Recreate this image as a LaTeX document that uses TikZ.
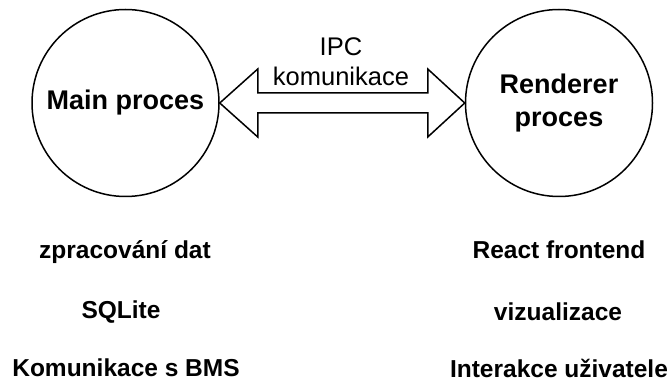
\documentclass[tikz,border=0pt]{standalone}
\usepackage{fontspec}
\setmainfont{Liberation Sans}
\usetikzlibrary{calc}
\begin{document}
\begin{tikzpicture}[x=1pt,y=-1pt,
  proc/.style={circle,draw,line width=1.5pt,minimum size=187pt,inner sep=0pt,align=center,
    font=\fontsize{27}{33}\selectfont\bfseries},
  lbl/.style={font=\fontsize{24.5}{28}\selectfont\bfseries,inner sep=0pt},
  ipc/.style={font=\fontsize{25.5}{30}\selectfont,align=center,inner sep=0pt},
  bigarrow/.style={draw,line width=1.5pt,line join=miter}]
\useasboundingbox (0,0) rectangle (669,382);
\node[proc] (main) at (125.5,103) {Main proces};
\node[proc] (rend) at (559,103) {Renderer\\proces};
\draw[bigarrow] (main.east) -- ++(38,-34) -- ++(0,24)
  -- ($(rend.west)+(-37,-10)$) -- ++(0,-24) -- (rend.west)
  -- ++(-37,34) -- ++(0,-24) -- ($(main.east)+(38,10)$) -- ++(0,24) -- cycle;
\node[ipc] (ipc) at (341,62) {IPC\\komunikace};
\node[lbl] (m1) at (125,252) {zpracování dat};
\node[lbl] (m2) at (121,312) {SQLite};
\node[lbl] (m3) at (126,368) {Komunikace s BMS};
\node[lbl] (r1) at (559,250) {React frontend};
\node[lbl] (r2) at (558,312) {vizualizace};
\node[lbl] (r3) at (559,368) {Interakce uživatele};
\end{tikzpicture}
\end{document}
